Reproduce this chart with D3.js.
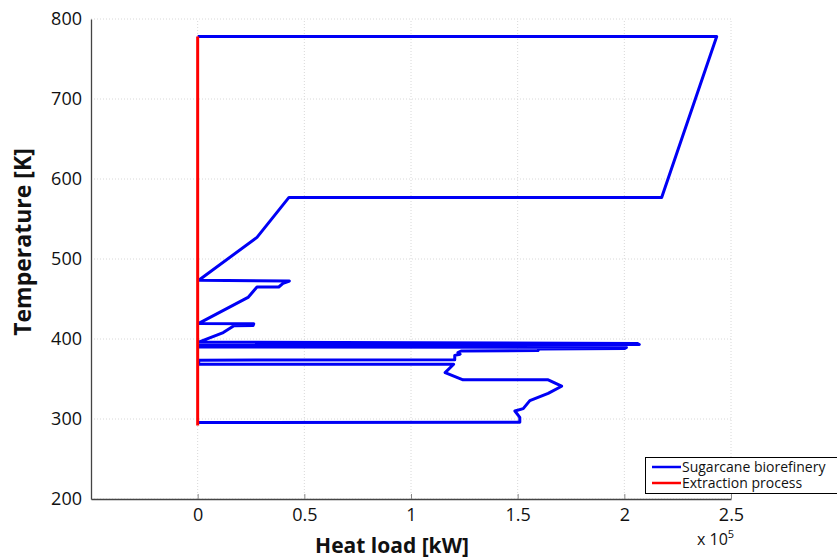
<!DOCTYPE html>
<html>
<head>
<meta charset="utf-8">
<script src="https://cdn.jsdelivr.net/npm/d3@7"></script>
<style>
  body { margin: 0; background: #fff; }
  svg { display: block; font-family: "Open Sans", sans-serif; }
</style>
</head>
<body>
<div id="chart"></div>
<script>
// heat load in kW, temperature in K
const sugarQ = [0, 243300, 217500, 42800, 27800, 500, 43000, 40000, 38000, 27800, 23600, 500,
  26300, 26000, 17000, 12000, 500, 206000, 207000, 500, 500, 201000, 200000, 160000, 159500,
  123500, 122000, 123000, 120500, 120500, 500, 500, 120000, 116000, 124400, 164300, 170600,
  164300, 155700, 152600, 148700, 151000, 151000, 0];
const sugarT = [778, 778, 577, 577, 527, 473.5, 472.5, 469.5, 465, 465, 452, 419.5,
  419, 417, 416.5, 408, 396, 394.5, 393, 392, 390, 389.5, 388, 387.5, 385.5,
  385, 383, 381, 379.5, 374, 373.5, 368.5, 368.5, 358, 349, 349, 341,
  332, 323, 313, 310, 302, 296, 295.5];

const extractQ = [0, 0, 0, 0];
const extractT = [778, 660, 400, 292];

const xTicks = [0, 50000, 100000, 150000, 200000, 250000];
const yTicks = [200, 300, 400, 500, 600, 700, 800];

const width = 837;
const height = 558;

const svg = d3.select("#chart")
  .append("svg")
  .attr("width", width)
  .attr("height", height);

const x = d3.scaleLinear()
  .domain([-50000, 250000])
  .range([91, 731]);

const y = d3.scaleLinear()
  .domain([200, 800])
  .range([499, 19]);

// grid
svg.append("g")
  .selectAll("line")
  .data(xTicks)
  .enter()
  .append("line")
  .attr("x1", d => x(d))
  .attr("x2", d => x(d))
  .attr("y1", y(200))
  .attr("y2", y(800))
  .attr("stroke", "#d8d8d8")
  .attr("stroke-dasharray", "1,2");

svg.append("g")
  .selectAll("line")
  .data(yTicks)
  .enter()
  .append("line")
  .attr("x1", x(-50000))
  .attr("x2", x(250000))
  .attr("y1", d => y(d))
  .attr("y2", d => y(d))
  .attr("stroke", "#d8d8d8")
  .attr("stroke-dasharray", "1,2");

// axes
const xAxis = svg.append("g")
  .attr("transform", `translate(0,${y(200)})`)
  .call(d3.axisBottom(x).tickValues(xTicks).tickSizeInner(-5).tickSizeOuter(0)
    .tickPadding(9).tickFormat(d => d / 1e5));

const yAxis = svg.append("g")
  .attr("transform", `translate(${x(-50000)},0)`)
  .call(d3.axisLeft(y).tickValues(yTicks).tickSizeInner(0).tickSizeOuter(0).tickPadding(9));

[xAxis, yAxis].forEach(g => {
  g.select(".domain").attr("stroke", "#444").attr("stroke-width", 1.3);
  g.selectAll(".tick line").attr("stroke", "#888");
  g.selectAll("text")
    .attr("font-family", "Open Sans, sans-serif")
    .attr("font-size", 18)
    .attr("fill", "#111");
});

// lines
const line = d3.line()
  .x(d => x(d[0]))
  .y(d => y(d[1]));

svg.append("path")
  .datum(d3.zip(sugarQ, sugarT))
  .attr("fill", "none")
  .attr("stroke", "#0000f5")
  .attr("stroke-width", 3)
  .attr("stroke-linejoin", "round")
  .attr("d", line);

svg.append("path")
  .datum(d3.zip(extractQ, extractT))
  .attr("fill", "none")
  .attr("stroke", "#ff0000")
  .attr("stroke-width", 3)
  .attr("d", line);

// labels
svg.append("text")
  .attr("x", 392)
  .attr("y", 553)
  .attr("text-anchor", "middle")
  .attr("font-size", 21)
  .attr("font-weight", "bold")
  .attr("fill", "#111")
  .text("Heat load [kW]");

const mult = svg.append("text")
  .attr("x", 697)
  .attr("y", 545)
  .attr("font-size", 16)
  .attr("fill", "#111");
mult.append("tspan").text("x 10");
mult.append("tspan").attr("dy", -7).attr("font-size", 11).text("5");

svg.append("text")
  .attr("transform", "translate(31,242) rotate(-90)")
  .attr("text-anchor", "middle")
  .attr("font-size", 23)
  .attr("font-weight", "bold")
  .attr("fill", "#111")
  .text("Temperature [K]");

// legend
const legendNames = ["Sugarcane biorefinery", "Extraction process"];
const legendColors = ["#0000f5", "#ff0000"];

const legend = svg.append("g");
legend.append("rect")
  .attr("x", 645.5)
  .attr("y", 457.5)
  .attr("width", 200)
  .attr("height", 36)
  .attr("fill", "#fff")
  .attr("stroke", "#000");

legendNames.forEach((name, i) => {
  const ly = 467 + i * 16;
  legend.append("line")
    .attr("x1", 652).attr("x2", 681)
    .attr("y1", ly).attr("y2", ly)
    .attr("stroke", legendColors[i])
    .attr("stroke-width", 2.5);
  legend.append("text")
    .attr("x", 682)
    .attr("y", ly)
    .attr("dy", "0.35em")
    .attr("font-size", 14)
    .attr("fill", "#111")
    .text(name);
});
</script>
</body>
</html>
